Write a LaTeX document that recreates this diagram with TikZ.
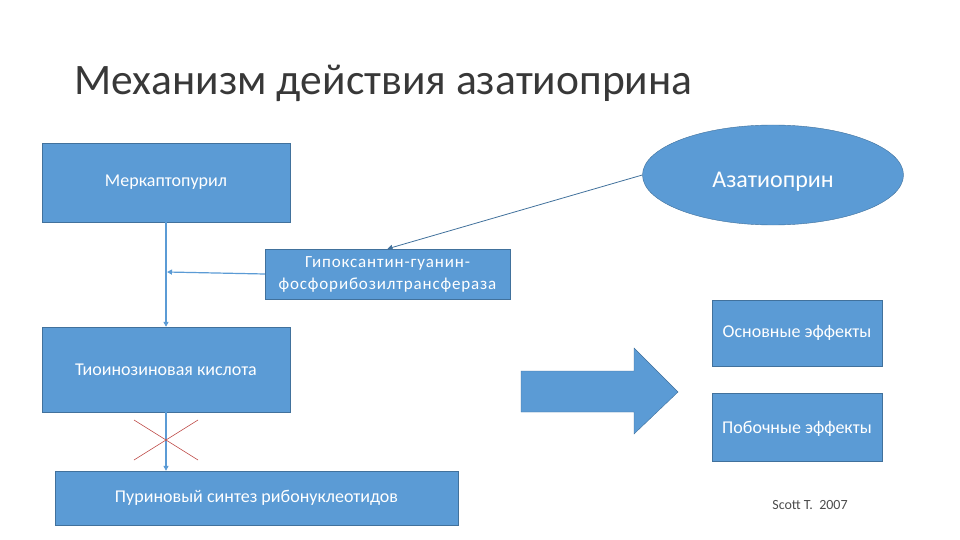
\documentclass[tikz,border=0pt]{standalone}
\usepackage{fontspec}
\setmainfont{Carlito}
\usetikzlibrary{arrows.meta,shapes.geometric}
\definecolor{zalivka}{HTML}{5B9BD5}
\definecolor{kontur}{HTML}{41719C}
\definecolor{liniya}{HTML}{5B9BD5}
\definecolor{krest}{HTML}{C0504D}
\begin{document}
\begin{tikzpicture}[
      x=1pt, y=-1pt,
      >={Triangle[length=5pt,width=5pt]},
      blok/.style={draw=kontur, fill=zalivka, text=white, inner sep=2pt, align=center, font=\fontsize{18}{22}\selectfont},
      oval/.style={ellipse, draw=kontur, fill=zalivka, text=white, minimum width=261pt, minimum height=100pt, font=\fontsize{24}{28}\selectfont},
      strelka/.style={->, line width=1.2pt, liniya}
  ]
      \useasboundingbox (0,0) rectangle (960,540);

      % Заголовок
      \node[anchor=base west, inner sep=0pt, font=\fontsize{43.5}{50}\selectfont, text=black!78] (zag) at (74,95) {Механизм действия азатиоприна};

      % Блоки
      \node[blok, minimum width=248pt, minimum height=79pt] (merk) at (166,182.5) {Меркаптопурил};
      \node[oval] (azat) at (773,175) {\raisebox{-13pt}[0pt][0pt]{Азатиоприн}};
      \node[blok, minimum width=245pt, minimum height=50pt, font=\fontsize{17}{22}\selectfont\addfontfeatures{LetterSpace=5}] (gipo) at (387.5,274) {Гипоксантин-гуанин-\\фосфорибозилтрансфераза};
      \node[blok, minimum width=248pt, minimum height=85pt] (tio) at (166,369.5) {Тиоинозиновая кислота};
      \node[blok, minimum width=403pt, minimum height=54pt] (purin) at (256.5,498) {Пуриновый синтез рибонуклеотидов};
      \node[blok, minimum width=170pt, minimum height=66pt] (osn) at (797,333) {Основные эффекты};
      \node[blok, minimum width=170pt, minimum height=68pt] (pob) at (797,427) {\raisebox{-6pt}[0pt][0pt]{Побочные эффекты}};
      \node[font=\fontsize{14}{16}\selectfont, text=black!70] (avtor) at (810,505) {Scott T.\ \ 2007};

      % Связи
      \coordinate (styk) at (167,272);
      \draw[strelka, line width=0.8pt, kontur] (azat.west) -- (gipo.north);
      \draw[strelka] (merk.south) -- (tio.north);
      \draw[strelka] (gipo.west) -- (styk);
      \draw[strelka] (tio.south) -- (purin.north -| tio.south);

      % Блокировка синтеза
      \draw[krest, line width=0.6pt] (134,420) -- (198,460) (134,460) -- (198,420);

      % Большая стрелка
      \draw[kontur, fill=zalivka] (521,371) -- (634,371) -- (634,348) -- (678,392) -- (634,434) -- (634,412) -- (521,412) -- cycle;
  \end{tikzpicture}
\end{document}
